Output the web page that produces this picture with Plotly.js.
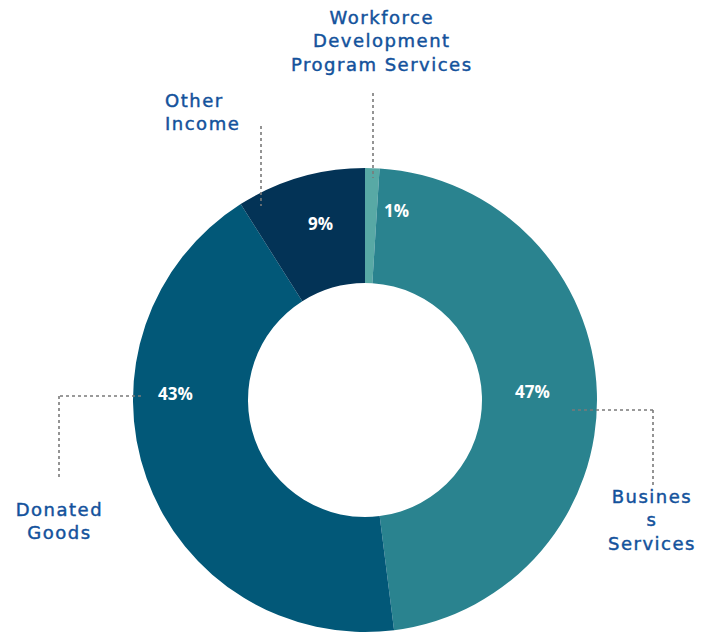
<!DOCTYPE html>
<html>
<head>
<meta charset="utf-8">
<script src="https://cdn.plot.ly/plotly-3.0.1.min.js"></script>
<style>
html,body{margin:0;padding:0;background:#fff;}
#chart{width:708px;height:634px;}
.catlabel text{letter-spacing:1.5px;stroke:#13529c;stroke-width:0.45px;}
</style>
</head>
<body>
<div id="chart"></div>
<script>
// ---- data ----
const categories = ["Workforce Development Program Services", "Business Services", "Donated Goods", "Other Income"];
const labelTexts = ["Workforce<br>Development<br>Program Services", "Busines<br>s<br>Services", "Donated<br>Goods", "Other<br>Income"];
const values = [1, 47, 43, 9];
const percentLabels = ["1%", "47%", "43%", "9%"];
const colors = ["#58a9a5", "#2a838f", "#025878", "#033356"];

// ---- layout helpers (pixel -> paper) ----
const W = 708, H = 634;
const px = x => x / W;
const py = y => 1 - y / H;
const cx = 365, cy = 400, R = 232;

const labelColor = "#13529c";
const labelFont = {family: "DejaVu Sans, sans-serif", size: 18, color: labelColor};
const pctFont = {family: "Open Sans, sans-serif", size: 17, color: "#ffffff", weight: 700};

const annotations = [];
// percentage labels placed from the data's cumulative angles
const total = values.reduce((a, b) => a + b, 0);
let cum = 0;
const pctRadius = [192, 168, 190, 182];
const angleShift = [7.5, -1, 21.8, 2];
values.forEach((v, i) => {
  const mid = (cum + v / 2) / total * 360 + angleShift[i];
  cum += v;
  const a = mid * Math.PI / 180;
  const x = cx + pctRadius[i] * Math.sin(a);
  const y = cy - pctRadius[i] * Math.cos(a);
  annotations.push({x: px(x), y: py(y), xref: "paper", yref: "paper", text: percentLabels[i],
    showarrow: false, font: pctFont, xanchor: "center", yanchor: "middle"});
});

// category labels (top of first line)
const labelPos = [
  {x: 382, y: 6, anchor: "center", align: "center"},
  {x: 652, y: 485, anchor: "center", align: "center"},
  {x: 59, y: 498, anchor: "center", align: "center"},
  {x: 164, y: 89, anchor: "left", align: "left"}
];
labelTexts.forEach((t, i) => {
  annotations.push({x: px(labelPos[i].x), y: py(labelPos[i].y), xref: "paper", yref: "paper",
    text: t, showarrow: false, font: labelFont, xanchor: labelPos[i].anchor, yanchor: "top",
    align: labelPos[i].align, borderpad: 0});
});

// dotted leader lines
const dot = {color: "#7a7a7a", width: 1.6, dash: "dot"};
const seg = (x0, y0, x1, y1) => ({type: "line", xref: "paper", yref: "paper",
  x0: px(x0), y0: py(y0), x1: px(x1), y1: py(y1), line: dot, layer: "above"});
const shapes = [
  seg(373, 93, 373, 178),
  seg(261, 126, 261, 206),
  seg(141, 396, 59, 396), seg(59, 396, 59, 477),
  seg(572, 410, 653, 410), seg(653, 410, 653, 487)
];

const trace = {
  type: "pie",
  labels: categories,
  values: values,
  hole: 117 / 232,
  sort: false,
  direction: "clockwise",
  rotation: 0,
  textinfo: "none",
  hoverinfo: "label+percent",
  marker: {colors: colors, line: {color: "#ffffff", width: 0}},
  domain: {x: [px(cx - R), px(cx + R)], y: [py(cy + R), py(cy - R)]},
  showlegend: false
};

Plotly.newPlot("chart", [trace], {
  width: W, height: H,
  margin: {l: 0, r: 0, t: 0, b: 0},
  paper_bgcolor: "#ffffff",
  showlegend: false,
  annotations: annotations,
  shapes: shapes
}, {displayModeBar: false, staticPlot: true}).then(gd => {
  const nPct = percentLabels.length;
  gd.querySelectorAll("g.annotation").forEach(g => {
    const idx = +g.getAttribute("data-index");
    if (idx >= nPct) g.classList.add("catlabel");
  });
});
</script>
</body>
</html>
